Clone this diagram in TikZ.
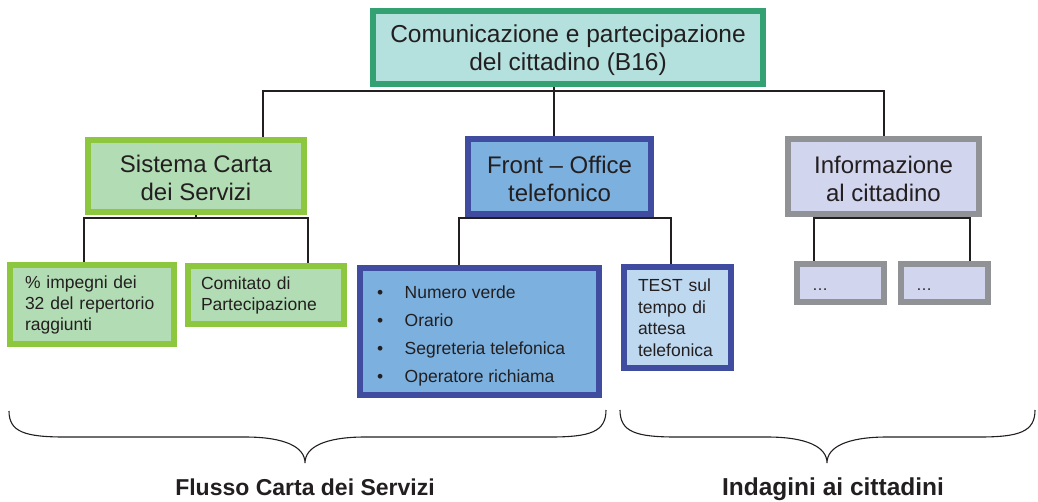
\documentclass[tikz,border=0pt]{standalone}
\usepackage{fontspec}
\setmainfont{Liberation Sans}
\usetikzlibrary{backgrounds}
\definecolor{txt}{RGB}{35,31,32}
\definecolor{topb}{RGB}{52,161,114}
\definecolor{topf}{RGB}{180,224,222}
\definecolor{grb}{RGB}{141,198,63}
\definecolor{grf}{RGB}{178,220,180}
\definecolor{blb}{RGB}{64,76,160}
\definecolor{blf}{RGB}{124,176,222}
\definecolor{tsf}{RGB}{190,216,240}
\definecolor{gyb}{RGB}{145,146,150}
\definecolor{gyf}{RGB}{210,213,238}
\begin{document}
\begin{tikzpicture}[x=1pt,y=-1pt,
  box/.style={draw, line width=6pt, inner sep=0pt},
  htext/.style={text=txt, font=\fontsize{24}{28}\selectfont, align=center, inner sep=0pt},
  lbox/.style={draw, line width=6pt, inner ysep=0pt, text=txt, font=\fontsize{17.5}{21}\selectfont, align=left},
  conn/.style={draw=txt, line width=1.2pt},
  brace/.style={draw=txt, line width=1.1pt},
  lab/.style={text=txt, font=\bfseries, anchor=base}]
\useasboundingbox (0,0) rectangle (1038,501);

\node[box, draw=topb, fill=topf, minimum width=390pt, minimum height=73pt] (top) at (568,47.5) {};
\node[htext, font=\fontsize{24.5}{28}\selectfont] (topt) at ([yshift=-3pt]top.center) {Comunicazione e partecipazione\\del cittadino (B16)};

\node[box, draw=grb, fill=grf, minimum width=216pt, minimum height=72pt] (sis) at (196,176) {};
\node[htext] (sist) at ([yshift=-2pt]sis.center) {Sistema Carta\\dei Servizi};
\node[box, draw=blb, fill=blf, minimum width=183pt, minimum height=75pt] (fro) at (559.5,176.5) {};
\node[htext] (frot) at ([yshift=-2pt]fro.center) {Front – Office\\telefonico};
\node[box, draw=gyb, fill=gyf, minimum width=191pt, minimum height=75pt] (inf) at (883.5,176.5) {};
\node[htext] (inft) at ([yshift=-2pt]inf.center) {Informazione\\al cittadino};

\node[lbox, draw=grb, fill=grf, inner xsep=15pt, text width=134pt, minimum height=79pt] (imp) at (92,304.5) {\% impegni dei\\32 del repertorio\\raggiunti};
\node[lbox, draw=grb, fill=grf, inner xsep=13pt, text width=130pt, minimum height=58pt] (com) at (266,295) {Comitato di\\Partecipazione};

\node[box, draw=blb, fill=blf, minimum width=239pt, minimum height=127pt] (bul) at (479.5,331.5) {};
\node[text=txt, font=\fontsize{17.5}{28}\selectfont, align=left, anchor=west, inner sep=0pt] (bult) at ([yshift=-4pt,xshift=20pt]bul.west)
  {\makebox[27.5pt][l]{\textbullet}Numero verde\\
   \makebox[27.5pt][l]{\textbullet}Orario\\
   \makebox[27.5pt][l]{\textbullet}Segreteria telefonica\\
   \makebox[27.5pt][l]{\textbullet}Operatore richiama};
\node[lbox, draw=blb, fill=tsf, inner xsep=14pt, text width=79pt, minimum height=101pt, font=\fontsize{17.5}{21.5}\selectfont] (tst) at (677.5,317.5) {TEST sul\\tempo di\\attesa\\telefonica};

\node[box, draw=gyb, fill=gyf, minimum width=87pt, minimum height=38pt] (d1) at (840.5,283) {};
\node[box, draw=gyb, fill=gyf, minimum width=87pt, minimum height=38pt] (d2) at (944.5,283) {};
\node[text=txt, font=\fontsize{16}{16}\selectfont, anchor=base west, inner sep=0pt] (d1t) at (812,290) {\ldots};
\node[text=txt, font=\fontsize{16}{16}\selectfont, anchor=base west, inner sep=0pt] (d2t) at (916,290) {\ldots};

\coordinate (b0) at (554,91);
\coordinate (b1) at (263,91);
\coordinate (b2) at (884,91);
\coordinate (s1) at (84,218);
\coordinate (s2) at (308,218);
\coordinate (f1) at (459,218);
\coordinate (f2) at (671,218);
\coordinate (i1) at (814,218);
\coordinate (i2) at (970,218);

\begin{scope}[on background layer]
\draw[conn] (top.south -| b0) -- (b0);
\draw[conn] (sis.north -| b1) -- (b1) -- (b2) -- (inf.north -| b2);
\draw[conn] (b0) -- (fro.north -| b0);
\draw[conn] (sis.south) -- (sis.south |- s1);
\draw[conn] (imp.north -| s1) -- (s1) -- (s2) -- (com.north -| s2);
\draw[conn] (fro.south) -- (fro.south |- f1);
\draw[conn] (bul.north -| f1) -- (f1) -- (f2) -- (tst.north -| f2);
\draw[conn] (inf.south) -- (inf.south |- i1);
\draw[conn] (d1.north -| i1) -- (i1) -- (i2) -- (d2.north -| i2);
\end{scope}

\coordinate (t1) at (305,463);
\coordinate (t2) at (827,463);
\draw[brace] (9,411) .. controls (9,432) and (25,437) .. (65,437) -- (245,437)
  .. controls (285,437) and (305,447) .. (t1)
  .. controls (305,447) and (325,437) .. (365,437) -- (550,437)
  .. controls (590,437) and (606,432) .. (606,410);
\draw[brace] (620,410) .. controls (620,432) and (636,437) .. (676,437) -- (767,437)
  .. controls (807,437) and (827,447) .. (t2)
  .. controls (827,447) and (847,437) .. (887,437) -- (979,437)
  .. controls (1019,437) and (1035,432) .. (1035,410);

\node[lab, font=\fontsize{23}{28}\selectfont\bfseries] (l1) at (305,495) {Flusso Carta dei Servizi};
\node[lab, font=\fontsize{24.5}{28}\selectfont\bfseries] (l2) at (833,495) {Indagini ai cittadini};
\end{tikzpicture}
\end{document}
